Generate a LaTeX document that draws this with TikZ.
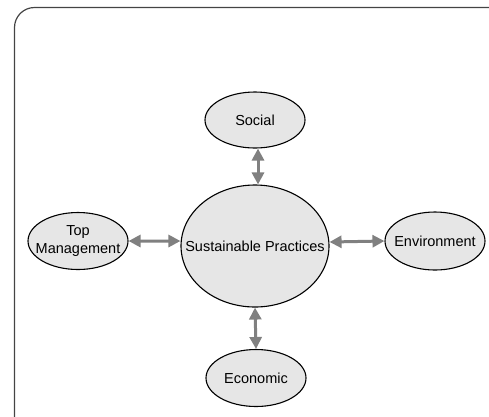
\documentclass[tikz,border=0pt]{standalone}
\usepackage{fontspec}
\setmainfont{Liberation Sans}
\usetikzlibrary{shapes.geometric,arrows.meta}
\definecolor{fillgray}{HTML}{E6E6E6}
\definecolor{arrowgray}{HTML}{808080}
\definecolor{framegray}{HTML}{444444}
\begin{document}
\begin{tikzpicture}[x=1bp,y=-1bp,
  bubble/.style={ellipse, draw=black, line width=1.1bp, fill=fillgray, inner sep=0pt},
  lbl/.style={font=\fontsize{14.5bp}{17.5bp}\selectfont, align=center},
  link/.style={draw=arrowgray, line width=3bp,
    {Triangle[length=12bp,width=12bp]}-{Triangle[length=12bp,width=12bp]}}]
\useasboundingbox (0,0) rectangle (489,416);
\clip (0,0) rectangle (489,416);
\draw[framegray, line width=1.2bp, rounded corners=20bp] (14.5,440) |- (520,7.5);
% nodes
\node[bubble, minimum width=148bp, minimum height=122bp,
  label={[lbl]center:Sustainable Practices}] (sp) at (255,246) {};
\node[bubble, minimum width=100bp, minimum height=56bp,
  label={[lbl]center:Social}] (social) at (255,120) {};
\node[bubble, minimum width=100bp, minimum height=57bp,
  label={[lbl]center:Top\\Management}] (top) at (78,241) {};
\node[bubble, minimum width=100bp, minimum height=58bp,
  label={[lbl]center:Environment}] (env) at (435,241) {};
\node[bubble, minimum width=100bp, minimum height=57bp,
  label={[lbl]center:Economic}] (eco) at (256,378) {};
% connectors
\draw[link] ([xshift=3bp]social.south) -- ([xshift=3bp]sp.north);
\draw[link] (top.east) -- ([yshift=5bp]sp.west);
\draw[link] ([yshift=4bp]sp.east) -- (env.west);
\draw[link] (sp.south) -- (eco.north);
\end{tikzpicture}
\end{document}
